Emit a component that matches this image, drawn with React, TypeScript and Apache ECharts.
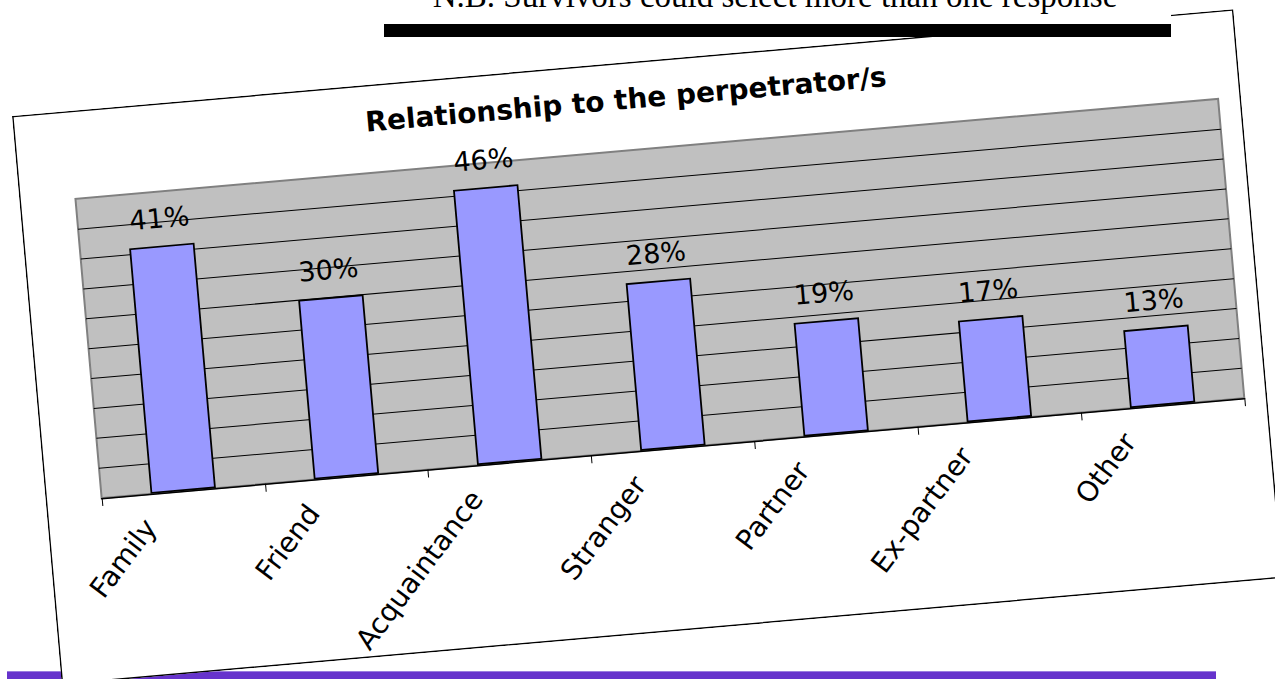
import React, { useEffect, useRef } from "react";
import * as echarts from "echarts";

const categories = ["Family", "Friend", "Acquaintance", "Stranger", "Partner", "Ex-partner", "Other"];
const values = [41, 30, 46, 28, 19, 17, 13];
const chartTitle = "Relationship to the perpetrator/s";
const noteText = "N.B. Survivors could select more than one response";

function useChart(ref: React.RefObject<HTMLDivElement | null>, option: any) {
  useEffect(() => {
    if (!ref.current) return;
    const c = echarts.init(ref.current, undefined, { renderer: "svg" });
    c.setOption(option);
    return () => c.dispose();
  }, []);
}

export default function App() {
  const bgRef = useRef<HTMLDivElement>(null);
  const chartRef = useRef<HTMLDivElement>(null);
  const fgRef = useRef<HTMLDivElement>(null);

  useChart(bgRef, {
    animation: false,
    graphic: [
      { type: "rect", shape: { x: 7, y: 671, width: 1209, height: 10 }, style: { fill: "#6633CC" }, silent: true },
      { type: "rect", shape: { x: 7, y: 671, width: 1209, height: 1 }, style: { fill: "#9A7BE0" }, silent: true },
    ],
  });

  useChart(chartRef, {
    animation: false,
    backgroundColor: "#ffffff",
    title: {
      text: chartTitle,
      left: "center",
      top: 23,
      padding: 0,
      textStyle: { fontFamily: "DejaVu Sans", fontWeight: "bold", fontSize: 28, color: "#000" },
    },
    grid: {
      left: 56,
      top: 88,
      width: 1147,
      height: 300.5,
      show: true,
      outerBoundsMode: "none",
      containLabel: false,
      backgroundColor: "#C0C0C0",
      borderColor: "#808080",
      borderWidth: 2,
    },
    xAxis: {
      type: "category",
      data: categories,
      axisLine: { lineStyle: { color: "#000", width: 1.5 } },
      axisTick: { show: true, length: 8, lineStyle: { color: "#000", width: 1 } },
      axisLabel: {
        rotate: 48,
        interval: 0,
        fontSize: 28,
        fontFamily: "DejaVu Sans",
        color: "#000",
        margin: -11,
        padding: [0, 53, 0, 0],
      },
    },
    yAxis: {
      type: "value",
      min: 0,
      max: 50,
      interval: 5,
      axisLabel: { show: false },
      axisLine: { show: false },
      axisTick: { show: false },
      splitLine: { show: true, showMinLine: false, showMaxLine: false, lineStyle: { color: "#000", width: 1 } },
    },
    series: [
      {
        type: "bar",
        data: values,
        barWidth: "40%",
        itemStyle: { color: "#9999FF", borderColor: "#000", borderWidth: 1.8 },
        label: {
          show: true,
          position: "top",
          distance: 14,
          formatter: "{c}%",
          fontSize: 27,
          fontFamily: "DejaVu Sans",
          color: "#000",
        },
      },
    ],
    graphic: [
      {
        type: "rect",
        shape: { x: 0.75, y: 0.75, width: 1224.5, height: 569.5 },
        style: { fill: "none", stroke: "#000", lineWidth: 1.5 },
        silent: true,
        z: 100,
      },
    ],
  });

  useChart(fgRef, {
    animation: false,
    graphic: [
      { type: "rect", shape: { x: 384, y: 0, width: 787, height: 24 }, style: { fill: "#ffffff" }, silent: true },
      { type: "rect", shape: { x: 384, y: 24, width: 787, height: 13 }, style: { fill: "#000000" }, silent: true },
      {
        type: "text",
        x: 775,
        y: -4,
        style: {
          text: noteText,
          fontFamily: "Liberation Serif",
          fontSize: 33,
          fill: "#000",
          align: "center",
          verticalAlign: "middle",
        },
        silent: true,
      },
    ],
  });

  return (
    <div style={{ position: "fixed", left: 0, top: 0, width: 1275, height: 679, overflow: "hidden", background: "#fff" }}>
      <div ref={bgRef} style={{ position: "absolute", left: 0, top: 0, width: 1275, height: 679 }} />
      <div
        ref={chartRef}
        style={{
          position: "absolute",
          left: 11.7,
          top: 115.7,
          width: 1226,
          height: 571,
          transform: "rotate(-5deg)",
          transformOrigin: "0 0",
        }}
      />
      <div ref={fgRef} style={{ position: "absolute", left: 0, top: 0, width: 1275, height: 679, pointerEvents: "none" }} />
    </div>
  );
}
